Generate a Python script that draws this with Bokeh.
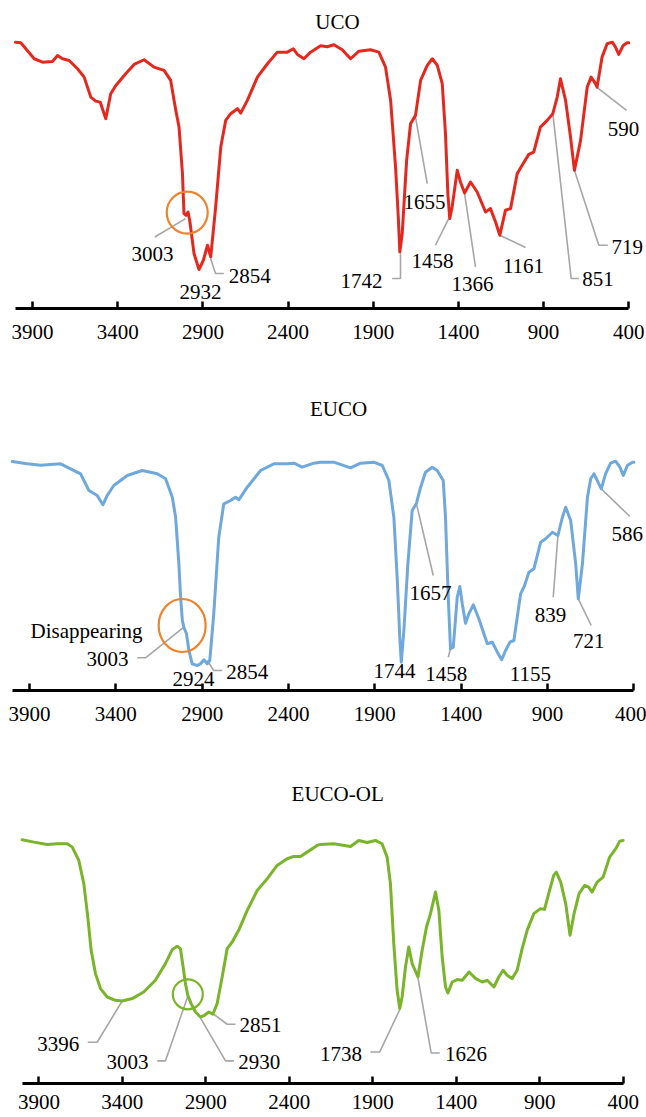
from bokeh.plotting import figure
from bokeh.layouts import column
from bokeh.models import Range1d, LinearAxis, FixedTicker, ColumnDataSource, Label, LabelSet
from bokeh.embed import file_html
from bokeh.resources import INLINE

# ---------------- data ----------------
TICKS = [3900, 3400, 2900, 2400, 1900, 1400, 900, 400]
TITLES = ["UCO", "EUCO", "EUCO-OL"]

uco_wn = [4000, 3969, 3890, 3841, 3783, 3753, 3724, 3685, 3636, 3597, 3558, 3529, 3503, 3470, 3441, 3411,
          3353, 3304, 3245, 3187, 3128, 3089, 3059, 3040, 3020, 3011, 2999, 2987, 2976, 2952, 2923, 2897,
          2873, 2854, 2825, 2795, 2766, 2737, 2697, 2678, 2639, 2580, 2521, 2463, 2404, 2369, 2345, 2307,
          2268, 2209, 2170, 2131, 2082, 2033, 1984, 1916, 1867, 1828, 1798, 1769, 1753, 1744, 1730, 1704,
          1681, 1652, 1622, 1583, 1553, 1524, 1495, 1476, 1462, 1451, 1437, 1407, 1388, 1364, 1329, 1290,
          1241, 1212, 1182, 1157, 1124, 1094, 1055, 1026, 987, 958, 919, 879, 846, 820, 801, 771,
          742, 719, 683, 644, 621, 601, 586, 557, 527, 497, 478, 459, 433, 410, 400]
uco_t = [266.6, 266, 250, 246.6, 247.3, 253.3, 250, 248.3, 240, 231.6, 211.6, 207.6, 206.6, 190, 215, 223.3,
         235, 244.3, 249, 241.6, 238.3, 228.3, 198.3, 181.6, 135, 95, 93.3, 96.6, 86.6, 55, 39, 48.3,
         63.3, 51.6, 101.6, 161.6, 188.3, 195, 200, 195.6, 208.3, 231.6, 245, 256.6, 256.6, 260, 254.3, 250,
         256.6, 263, 262, 264, 259, 250, 257.6, 259, 256.6, 241.6, 208.3, 141.6, 91.6, 56.6, 75, 148.3,
         185, 193.3, 228.3, 243.3, 250, 243.3, 225, 175, 115, 90, 101.6, 138.3, 126.6, 115.6, 126.6, 116.6,
         96.6, 100, 86.6, 73.3, 98.3, 100, 135, 143.3, 154.3, 156.6, 181.6, 188.3, 195, 211.6, 230, 208.3,
         171.6, 138.3, 168.3, 221.6, 231.6, 226.6, 221.6, 251.6, 265, 266.6, 261.6, 254.3, 263.3, 266, 266]

euco_wn = [4000, 3913, 3836, 3720, 3662, 3604, 3556, 3508, 3475, 3450, 3412, 3334, 3247, 3160, 3112, 3073,
           3054, 3035, 3025, 3015, 3006, 2991, 2977, 2958, 2929, 2910, 2890, 2871, 2856, 2833, 2804, 2775,
           2736, 2707, 2688, 2639, 2562, 2485, 2407, 2369, 2321, 2253, 2215, 2138, 2041, 1983, 1906, 1857,
           1819, 1790, 1770, 1755, 1747, 1732, 1709, 1684, 1659, 1635, 1607, 1568, 1539, 1504, 1491, 1475,
           1462, 1446, 1423, 1408, 1394, 1375, 1356, 1330, 1298, 1249, 1220, 1191, 1166, 1143, 1118, 1095,
           1056, 1033, 1008, 979, 940, 911, 872, 840, 814, 795, 766, 737, 722, 698, 669, 650,
           631, 608, 589, 564, 535, 506, 481, 461, 438, 409, 400]
euco_t = [229, 226.7, 225.3, 226.7, 221.7, 216.7, 200, 195, 185.7, 195, 205, 215, 220, 216.7, 211.7, 193.3,
          173.3, 126.7, 93.3, 70, 63.3, 56.7, 40, 26.7, 25, 26.7, 30.7, 26.7, 30, 76.7, 153.3, 186.7,
          190, 193.3, 190.7, 203.3, 220, 226.7, 226.7, 227.3, 223.3, 227.3, 228.3, 228.3, 222.7, 227.3, 228.3, 225,
          210, 173.3, 110, 50, 28.3, 60, 126.7, 180, 187.3, 203.3, 218.3, 223.3, 220, 210, 173.3, 93.3,
          41.7, 43.3, 93.3, 104, 86.7, 67.3, 76.7, 85.7, 71.7, 46.7, 48.3, 38.3, 30.7, 40, 48.3, 50,
          96.7, 105, 118.3, 121.7, 148.3, 151.7, 158.3, 155, 173.3, 183.3, 170, 126.7, 91.7, 126.7, 193.3, 211.7,
          216.7, 208.3, 201.7, 216.7, 227.3, 229.3, 223.3, 215, 225, 228.3, 228.3]

eucool_wn = [4000, 3930, 3850, 3790, 3730, 3700, 3661, 3631, 3607, 3587, 3561, 3531, 3491, 3441, 3401, 3341,
             3272, 3202, 3142, 3101, 3072, 3052, 3036, 3022, 3008, 2988, 2962, 2932, 2908, 2882, 2858, 2832,
             2802, 2772, 2742, 2703, 2652, 2592, 2532, 2473, 2413, 2373, 2333, 2293, 2233, 2213, 2133, 2033,
             1984, 1934, 1884, 1844, 1814, 1794, 1774, 1754, 1738, 1724, 1704, 1684, 1664, 1629, 1604, 1578,
             1554, 1524, 1504, 1484, 1464, 1450, 1424, 1394, 1364, 1323, 1283, 1244, 1214, 1174, 1145, 1119,
             1095, 1065, 1035, 1005, 975, 935, 895, 871, 846, 816, 800, 774, 744, 718, 694, 664,
             630, 606, 586, 556, 520, 481, 444, 420, 400]
eucool_t = [244, 241.6, 239.3, 240, 240, 236.6, 223.3, 200, 166.6, 133.3, 110, 95, 86.6, 83.3, 82.6, 85,
            91.6, 103.3, 120, 134, 137.3, 135, 116.6, 100, 88.3, 80, 71.6, 66.6, 68.3, 71.6, 69.3, 80,
            106.6, 135, 141.6, 153.3, 173.3, 193.3, 205, 218.3, 225, 227.3, 227.3, 231.6, 238.3, 239.3, 240, 237.3,
            243.3, 241.3, 243.3, 240, 226.6, 200, 140, 93.3, 75, 86.6, 116.6, 136.6, 120, 106.6, 133.3, 156.6,
            170, 191.6, 173.3, 126.6, 96.6, 90.6, 101.6, 104, 103.3, 111.6, 105, 101.6, 103.3, 96.6, 106.6, 113.3,
            108.3, 105, 113.3, 135, 153.3, 170, 175, 174.3, 190, 208.3, 211.6, 201.6, 180, 148.3, 170, 190,
            198.3, 196.6, 191.6, 201.6, 206.6, 226.6, 235, 242.6, 243.3]

# peak annotations (label text)
uco_peaks = ["3003", "2932", "2854", "1742", "1655", "1458", "1366", "1161", "851", "719", "590"]
euco_peaks = ["Disappearing", "3003", "2924", "2854", "1744", "1657", "1458", "1155", "839", "721", "586"]
eucool_peaks = ["3396", "3003", "2930", "2851", "1738", "1626"]

# ---------------- layout of annotations ----------------
uco_lab_x = [3196, 2914, 2625, 1969, 1599, 1552, 1317, 1018, 581, 409, 431]
uco_lab_y = [55, 17, 33, 28, 106.6, 48, 25, 43, 30, 62, 180]
uco_lead_x = [[3002, 3182], [2855, 2826, 2777], [1740, 1740, 1789], [1652, 1583], [1457, 1535],
              [1364, 1300], [1157, 1006], [846, 738, 693], [719, 576, 523], [585, 413]]
uco_lead_y = [[90, 71.6], [50, 35, 35], [55, 30, 30], [191.6, 125], [90, 63.3],
              [115.6, 41.6], [73.3, 61], [195.6, 30, 30], [138.3, 63.3, 63.3], [221, 198.3]]
uco_circ = dict(x=[2992], y=[96], w=[41], h=[42])

euco_lab_x = [3570, 3448, 2950, 2639, 1786, 1578, 1487, 999, 883, 661, 439]
euco_lab_y = [60, 31.7, 12, 18.3, 20, 98, 17, 16.7, 76, 49.5, 157]
euco_lead_x = [[3006, 3228, 3276], [2871, 2833, 2784], [1659, 1562], [1462, 1475], [840, 867],
               [722, 647], [589, 423]]
euco_lead_y = [[63.3, 32.7, 32.7], [30, 20, 20], [186.7, 115], [41.7, 33.3], [155, 93.3],
               [91.7, 65], [201.7, 174]]
euco_circ = dict(x=[3016], y=[65], w=[47], h=[53])

eucool_lab_x = [3784, 3369, 2580, 2573, 2090, 1342]
eucool_lab_y = [40, 21.6, 21.6, 58.3, 30, 30]
eucool_lead_x = [[3401, 3551, 3607], [3008, 3142, 3191], [2936, 2782, 2732], [2852, 2772, 2722],
                 [1738, 1858, 1914], [1630, 1550, 1499]]
eucool_lead_y = [[82.6, 41.3, 41.3], [87.3, 22.6, 22.6], [66.6, 22.6, 22.6], [69.3, 59.3, 59.3],
                 [74, 31.6, 31.6], [106.6, 30.6, 30.6]]
eucool_circ = dict(x=[3008], y=[89.3], w=[30], h=[30])

FONT = "Liberation Serif"
FSIZE = "21px"
LEADER = "#A6A6A6"


def panel(title, title_y, wn, t, color, circ_color, lab_txt, lab_x, lab_y, lead_x, lead_y, circ,
          height, ytop, x_start, x_end, bottom, standoff):
    p = figure(width=646, height=height, output_backend="svg", toolbar_location=None,
               x_axis_location=None, y_axis_location=None,
               x_range=Range1d(x_start, x_end), y_range=Range1d(0, ytop),
               min_border_left=0, min_border_right=0, min_border_top=0,
               min_border_bottom=bottom)
    p.outline_line_color = None
    p.xgrid.visible = False
    p.ygrid.visible = False
    p.background_fill_color = "white"
    p.border_fill_color = "white"

    ax = LinearAxis(ticker=FixedTicker(ticks=TICKS), bounds=(400, 4000))
    ax.axis_line_width = 3
    ax.axis_line_color = "black"
    ax.major_tick_line_width = 2.5
    ax.major_tick_line_color = "black"
    ax.major_tick_in = 7
    ax.major_tick_out = 0
    ax.minor_tick_line_color = None
    ax.major_label_standoff = standoff
    ax.major_label_text_font = FONT
    ax.major_label_text_font_size = FSIZE
    ax.major_label_text_color = "black"
    p.add_layout(ax, "below")

    p.multi_line(xs=lead_x, ys=lead_y, line_color=LEADER, line_width=1.6)
    p.line(wn, t, line_color=color, line_width=3, line_join="round", line_cap="round")
    p.ellipse(x=circ["x"], y=circ["y"], width=circ["w"], height=circ["h"],
              width_units="screen", height_units="screen",
              fill_color=None, line_color=circ_color, line_width=2.2)

    src = ColumnDataSource(dict(x=lab_x, y=lab_y, text=lab_txt))
    p.add_layout(LabelSet(x="x", y="y", text="text", source=src, text_font=FONT,
                          text_font_size=FSIZE, text_align="center", text_baseline="middle",
                          text_color="black"))

    p.add_layout(Label(x=2110, y=title_y, text=title, text_font=FONT, text_font_size=FSIZE,
                       text_align="center", text_baseline="middle", text_color="black"))
    return p


p1 = panel(TITLES[0], 287, uco_wn, uco_t, "#E5281E", "#F0822A", uco_peaks, uco_lab_x, uco_lab_y,
           uco_lead_x, uco_lead_y, uco_circ, 375, 308.3, 4088, 296, 67, 16)
p2 = panel(TITLES[1], 282, euco_wn, euco_t, "#6FA8DC", "#F0822A", euco_peaks, euco_lab_x, euco_lab_y,
           euco_lead_x, euco_lead_y, euco_circ, 385, 315, 4068, 327, 70, 16)
p3 = panel(TITLES[2], 290, eucool_wn, eucool_t, "#7AB42A", "#7AB42A", eucool_peaks, eucool_lab_x,
           eucool_lab_y, eucool_lead_x, eucool_lead_y, eucool_circ, 357, 323.3, 4130, 260, 34, 11)

layout = column(p1, p2, p3, spacing=0)
open("out.html", "w").write(file_html(layout, INLINE))
